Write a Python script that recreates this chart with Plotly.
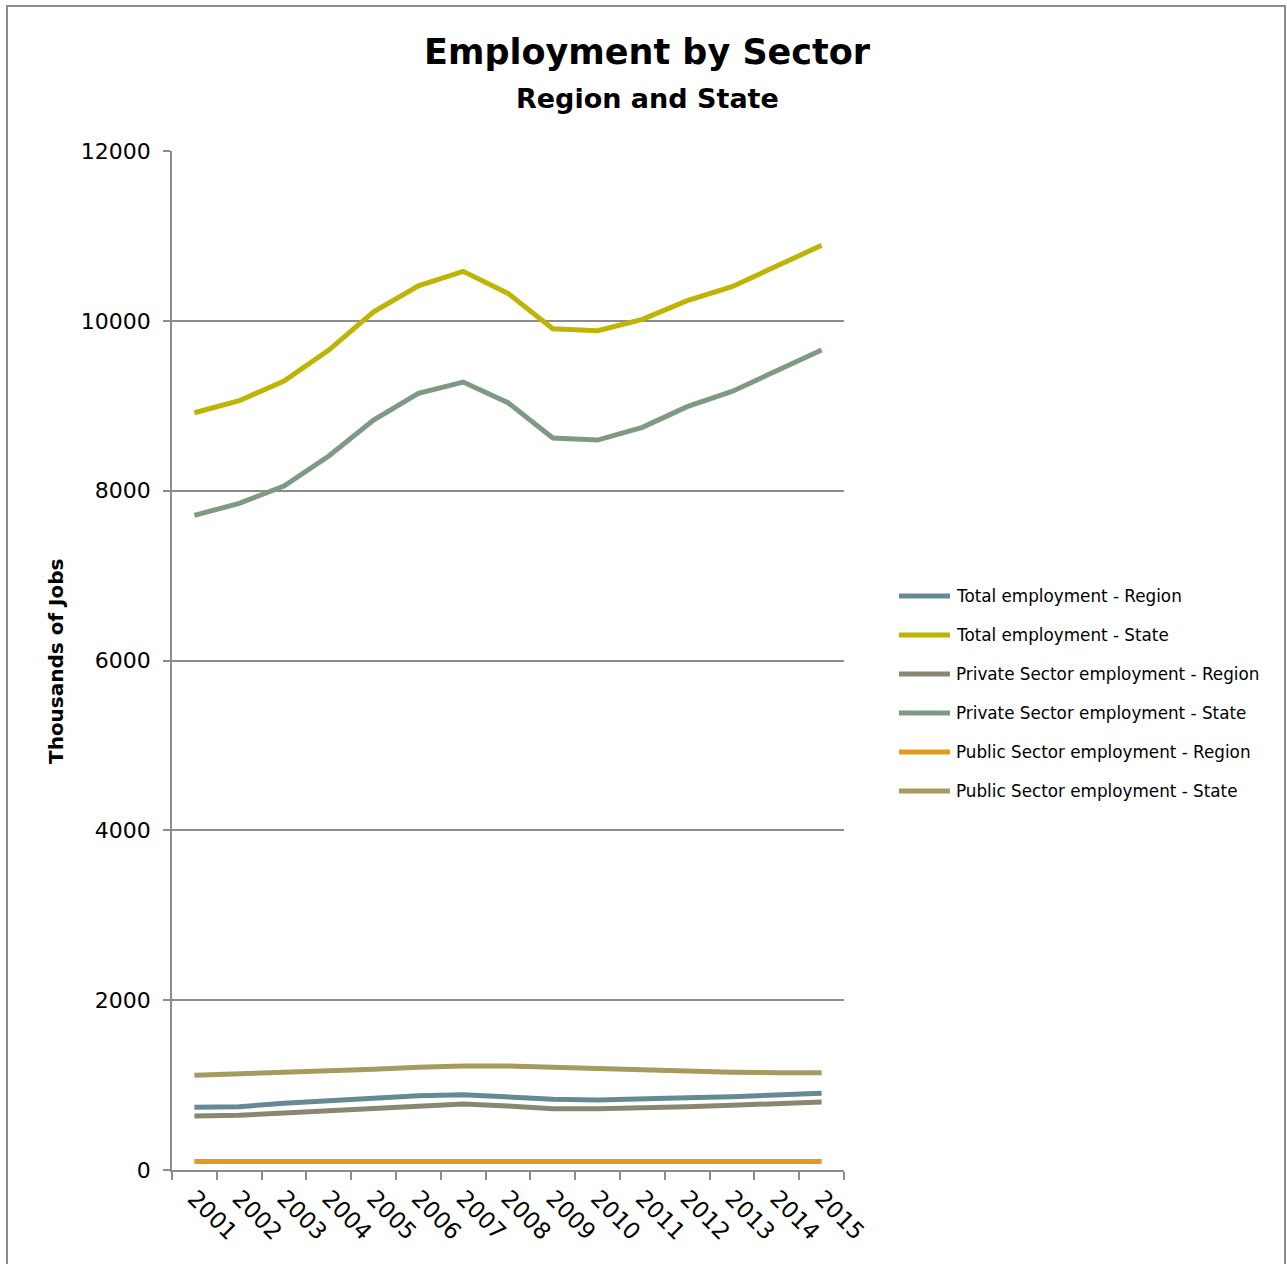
import plotly.graph_objects as go

# Employment by sector, thousands of jobs
years = [str(y) for y in range(2001, 2016)]

total_region = [738, 745, 785, 816, 844, 875, 887, 863, 832, 824, 832, 851, 863, 883, 903]
total_state = [8918, 9059, 9291, 9656, 10107, 10413, 10583, 10323, 9907, 9883, 10017, 10237, 10402, 10645, 10889]
private_region = [636, 644, 671, 698, 726, 762, 777, 754, 722, 722, 730, 746, 762, 785, 801]
private_state = [7709, 7851, 8055, 8408, 8832, 9146, 9279, 9036, 8620, 8596, 8746, 8989, 9169, 9413, 9656]
public_region = [100, 101, 104, 106, 107, 107, 107, 106, 104, 103, 102, 101, 100, 100, 100]
public_state = [1115, 1130, 1146, 1170, 1185, 1209, 1225, 1225, 1209, 1201, 1185, 1170, 1150, 1146, 1146]

series_names = [
    "Total employment - Region",
    "Total employment - State",
    "Private Sector employment - Region",
    "Private Sector employment - State",
    "Public Sector employment - Region",
    "Public Sector employment - State",
]
series_values = [total_region, total_state, private_region, private_state, public_region, public_state]
series_colors = ["#658A94", "#BDB403", "#898671", "#7E9A85", "#E39B1D", "#A59A60"]

FONT = "DejaVu Sans"
W, H = 1287, 1264
L, R, T, B = 172, 443, 151, 94
PW, PH = W - L - R, H - T - B


def px_x(x):
    return (x - L) / PW


def px_y(y):
    return (H - B - y) / PH


fig = go.Figure()
for name, vals, col in zip(series_names, series_values, series_colors):
    fig.add_trace(go.Scatter(
        x=years, y=vals, name=name, mode="lines",
        line=dict(color=col, width=5),
        showlegend=False,
    ))

shapes = [
    # outer frame
    dict(type="rect", xref="paper", yref="paper",
         x0=px_x(7), x1=px_x(1285), y0=px_y(1275), y1=px_y(6),
         line=dict(color="#8C8C8C", width=2), fillcolor="rgba(0,0,0,0)", layer="below"),
]
annotations = [
    dict(text="<b>Employment by Sector</b>", xref="paper", yref="paper",
         x=px_x(647), y=px_y(52), showarrow=False,
         font=dict(family=FONT, size=35, color="#000000"), xanchor="center", yanchor="middle"),
    dict(text="<b>Region and State</b>", xref="paper", yref="paper",
         x=px_x(647), y=px_y(98), showarrow=False,
         font=dict(family=FONT, size=27, color="#000000"), xanchor="center", yanchor="middle"),
    dict(text="<b>Thousands of Jobs</b>", xref="paper", yref="paper",
         x=px_x(56), y=px_y(661), showarrow=False, textangle=-90,
         font=dict(family=FONT, size=20, color="#000000"), xanchor="center", yanchor="middle"),
]

# legend entries
for i, (name, col) in enumerate(zip(series_names, series_colors)):
    yy = 596 + 39 * i
    shapes.append(dict(type="line", xref="paper", yref="paper",
                       x0=px_x(899), x1=px_x(950), y0=px_y(yy), y1=px_y(yy),
                       line=dict(color=col, width=5)))
    annotations.append(dict(text=name, xref="paper", yref="paper",
                            x=px_x(954), y=px_y(yy), showarrow=False,
                            xanchor="left", yanchor="middle",
                            font=dict(family=FONT, size=16.8, color="#000000")))

fig.update_layout(
    width=W, height=H,
    margin=dict(l=L, r=R, t=T, b=B),
    paper_bgcolor="#FFFFFF", plot_bgcolor="#FFFFFF",
    font=dict(family=FONT, color="#000000"),
    shapes=shapes,
    annotations=annotations,
    xaxis=dict(
        type="category", range=[-0.5, len(years) - 0.5],
        tickangle=45, tickson="boundaries",
        ticks="outside", ticklen=8, tickcolor="#8C8C8C", tickwidth=1.5,
        ticklabelstandoff=4,
        showline=True, linecolor="#8C8C8C", linewidth=1.5,
        showgrid=False, zeroline=False,
        tickfont=dict(family=FONT, size=23, color="#000000"),
    ),
    yaxis=dict(
        range=[0, 12000], tickvals=[0, 2000, 4000, 6000, 8000, 10000, 12000],
        ticktext=["0", "2000", "4000", "6000", "8000", "10000", "12000"],
        ticks="outside", ticklen=7, tickcolor="#8C8C8C", tickwidth=1.5,
        ticklabelstandoff=8,
        showline=True, linecolor="#8C8C8C", linewidth=1.5,
        showgrid=True, gridcolor="#8C8C8C", gridwidth=1.5, zeroline=False,
        tickfont=dict(family=FONT, size=22, color="#000000"),
    ),
)

fig.write_html("out.html")
